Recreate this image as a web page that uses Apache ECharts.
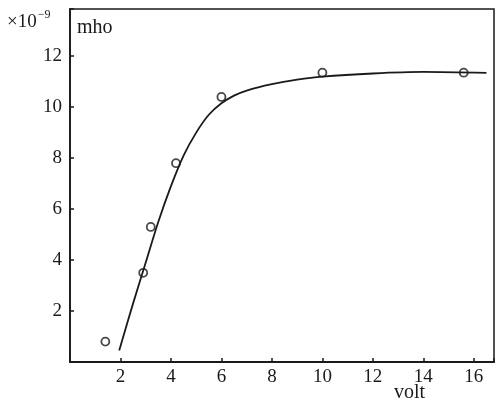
<!DOCTYPE html>
<html>
<head>
<meta charset="utf-8">
<script src="https://cdn.jsdelivr.net/npm/echarts@6/dist/echarts.min.js"></script>
<style>html,body{margin:0;padding:0;background:#fff}#c{width:498px;height:401px}</style>
</head>
<body>
<div id="c"></div>
<script>
// measured points (volt, mho ×10^-9)
var pointX = [1.4, 2.9, 3.2, 4.2, 6.0, 10.0, 15.6];
var pointY = [0.8, 3.5, 5.3, 7.8, 10.4, 11.35, 11.35];
// fitted curve
var curveX = [1.95, 2.5, 3.0, 3.5, 4.0, 4.5, 5.0, 5.5, 6.0, 6.5, 7.0, 8.0, 9.0, 10.0, 12.0, 14.0, 16.5];
var curveY = [0.45, 2.3, 3.9, 5.5, 6.9, 8.1, 9.0, 9.7, 10.15, 10.45, 10.65, 10.9, 11.08, 11.2, 11.32, 11.38, 11.34];
var xTicks = [2, 4, 6, 8, 10, 12, 14, 16];
var yTicks = [2, 4, 6, 8, 10, 12];

var font = '"Liberation Serif", "DejaVu Serif", serif';
var chart = echarts.init(document.getElementById('c'));
chart.setOption({
  animation: false,
  backgroundColor: '#fff',
  grid: {left: 70, right: 4, top: 9, bottom: 39, show: true, borderColor: '#1a1a1a', borderWidth: 1.5},
  xAxis: {
    type: 'value', min: 0, max: 16.8, interval: 2,
    axisLine: {lineStyle: {color: '#1a1a1a', width: 1.8}},
    axisTick: {inside: true, length: 4, lineStyle: {color: '#1a1a1a', width: 1.5}},
    splitLine: {show: false},
    axisLabel: {color: '#1a1a1a', fontFamily: font, fontSize: 19, margin: 6,
      formatter: function (v) { return xTicks.indexOf(v) >= 0 ? String(v) : ''; }}
  },
  yAxis: {
    type: 'value', min: 0, max: 13.85, interval: 2,
    axisLine: {lineStyle: {color: '#1a1a1a', width: 1.8}},
    axisTick: {inside: true, length: 4, lineStyle: {color: '#1a1a1a', width: 1.5}},
    splitLine: {show: false},
    axisLabel: {color: '#1a1a1a', fontFamily: font, fontSize: 19, margin: 8,
      formatter: function (v) { return yTicks.indexOf(v) >= 0 ? String(v) : ''; }}
  },
  graphic: [
    {type: 'text', left: 7, top: 9, style: {
      text: '{a|×10}{b|−9}', fill: '#1a1a1a',
      rich: {a: {fontFamily: font, fontSize: 19, padding: [4, 0, 0, 0]},
             b: {fontFamily: font, fontSize: 12, verticalAlign: 'top', padding: [0, 0, 0, 1]}}}},
    {type: 'text', left: 77, top: 18, style: {text: 'mho', fill: '#1a1a1a', font: '20px ' + font}},
    {type: 'text', left: 394, top: 383, style: {text: 'volt', fill: '#1a1a1a', font: '20px ' + font}}
  ],
  series: [
    {type: 'line', smooth: 0.3, showSymbol: false, silent: true,
      lineStyle: {color: '#1a1a1a', width: 1.8},
      data: curveX.map(function (x, i) { return [x, curveY[i]]; })},
    {type: 'scatter', symbol: 'circle', symbolSize: 8,
      itemStyle: {color: '#fff', borderColor: '#1a1a1a', borderWidth: 1.8},
      data: pointX.map(function (x, i) { return [x, pointY[i]]; })}
  ]
});
</script>
</body>
</html>
